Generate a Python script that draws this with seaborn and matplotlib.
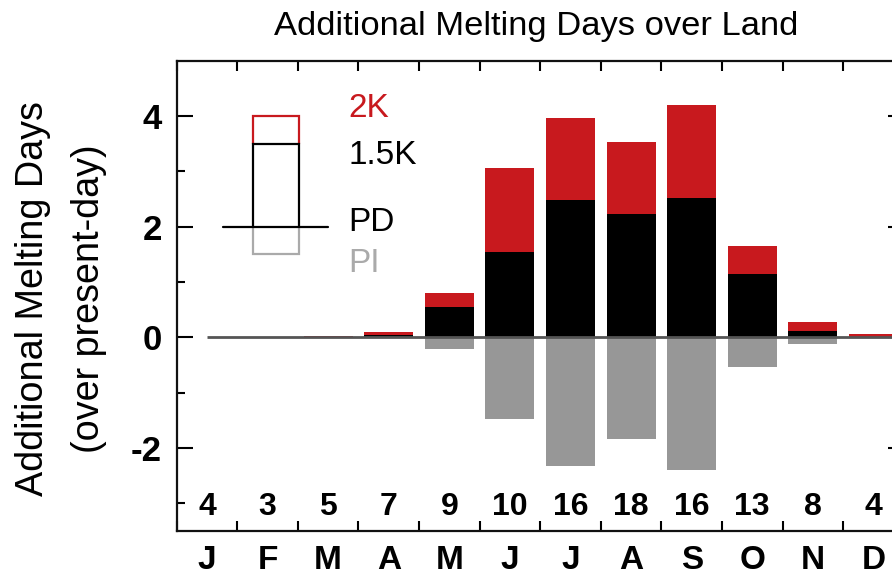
import numpy as np
import pandas as pd
import matplotlib
matplotlib.use("Agg")
import matplotlib.pyplot as plt
import seaborn as sns

# ---- data ----
months = ["J", "F", "M", "A", "M", "J", "J", "A", "S", "O", "N", "D"]
k2_vals = [0.0, 0.0, 0.02, 0.09, 0.80, 3.06, 3.96, 3.53, 4.20, 1.66, 0.27, 0.06]
k15_vals = [0.0, 0.0, 0.0, 0.04, 0.55, 1.55, 2.49, 2.23, 2.51, 1.15, 0.12, 0.01]
pi_vals = [0.0, 0.0, 0.0, -0.01, -0.21, -1.48, -2.33, -1.83, -2.39, -0.53, -0.12, -0.02]
counts = [4, 3, 5, 7, 9, 10, 16, 18, 16, 13, 8, 4]
yticks_major = [-2, 0, 2, 4]
yticks_minor = [-3, -1, 1, 3]

RED = "#C8191E"
GRAY = "#979797"
LGRAY = "#AAAAAA"

sns.set_style("ticks")
plt.rcParams["font.family"] = ["Liberation Sans", "DejaVu Sans"]
plt.rcParams["axes.unicode_minus"] = False
for k in ["text.color", "axes.labelcolor", "xtick.color", "ytick.color", "axes.edgecolor"]:
    plt.rcParams[k] = "black"

df = pd.DataFrame({"idx": list(range(12)), "k2": k2_vals, "k15": k15_vals, "pi": pi_vals})

W, H = 892, 576
fig = plt.figure(figsize=(W / 100, H / 100), dpi=100)
left_px, top_px, bottom_px, axw_px = 176.7, 60.7, 531.0, 727.0
ax = fig.add_axes([left_px / W, (H - bottom_px) / H, axw_px / W, (bottom_px - top_px) / H])

bw = 0.81
sns.barplot(data=df, x="idx", y="k2", color=RED, saturation=1, width=bw, linewidth=0, ax=ax, zorder=2)
sns.barplot(data=df, x="idx", y="k15", color="black", saturation=1, width=bw, linewidth=0, ax=ax, zorder=3)
sns.barplot(data=df, x="idx", y="pi", color=GRAY, saturation=1, width=bw, linewidth=0, ax=ax, zorder=2)

ax.hlines(0, 0, 12.5, color="#555555", lw=2.0, zorder=4)

ax.set_xlim(-0.5, 11.5)
ax.set_ylim(-3.5, 5)
ax.set_xlabel("")
ax.set_ylabel("")

# x ticks: boundaries (major), month labels at centres (minor)
ax.set_xticks(np.arange(-0.5, 12, 1))
ax.set_xticklabels([])
ax.set_xticks(np.arange(12), minor=True)
ax.set_xticklabels(months, minor=True, fontsize=24, fontweight="bold", color="black")
ax.tick_params(axis="x", which="major", direction="in", length=7.2, width=1.5, top=True, bottom=True, color="black")
ax.tick_params(axis="x", which="minor", length=0, pad=10)

ax.set_yticks(yticks_major)
ax.set_yticklabels([str(v) for v in yticks_major], fontsize=25, fontweight="bold", color="black")
ax.set_yticks(yticks_minor, minor=True)
ax.tick_params(axis="y", which="major", direction="in", length=11.5, width=1.5, left=True, right=True, pad=10.5, color="black")
ax.tick_params(axis="y", which="minor", direction="in", length=5.8, width=1.5, left=True, right=True, color="black")

for s in ax.spines.values():
    s.set_linewidth(1.6)
    s.set_color("#111111")
    s.set_visible(True)

# counts row
for i, c in enumerate(counts):
    ax.text(i, -3.06, str(c), ha="center", va="center", fontsize=23, fontweight="bold", color="black")

# legend schematic
bx0, bx1 = 0.754, 1.52
ax.plot([bx0, bx0, bx1, bx1], [3.5, 4.0, 4.0, 3.5], color=RED, lw=1.6, solid_joinstyle="miter")
ax.plot([bx0, bx0, bx1, bx1], [2.0, 3.5, 3.5, 2.0], color="black", lw=1.6, solid_joinstyle="miter")
ax.plot([bx0, bx0, bx1, bx1], [2.0, 1.5, 1.5, 2.0], color=LGRAY, lw=1.6, solid_joinstyle="miter")
ax.plot([0.26, 2.0], [2.0, 2.0], color="black", lw=1.6)
lx = 2.33
ax.text(lx, 4.13, "2K", color=RED, fontsize=24, ha="left", va="center")
ax.text(lx, 3.28, "1.5K", color="black", fontsize=24, ha="left", va="center")
ax.text(lx, 2.08, "PD", color="black", fontsize=24, ha="left", va="center")
ax.text(lx, 1.33, "PI", color=LGRAY, fontsize=24, ha="left", va="center")

# title & y label
fig.text(536 / W, 1 - 26 / H, "Additional Melting Days over Land", ha="center", va="center", fontsize=24.8, color="black")
fig.text(33 / W, 1 - 298.5 / H, "Additional Melting Days", rotation=90, ha="center", va="center", fontsize=27.2, color="black")
fig.text(89 / W, 1 - 298.5 / H, "(over present-day)", rotation=90, ha="center", va="center", fontsize=27.2, color="black")

fig.savefig("out.png", dpi=100)
